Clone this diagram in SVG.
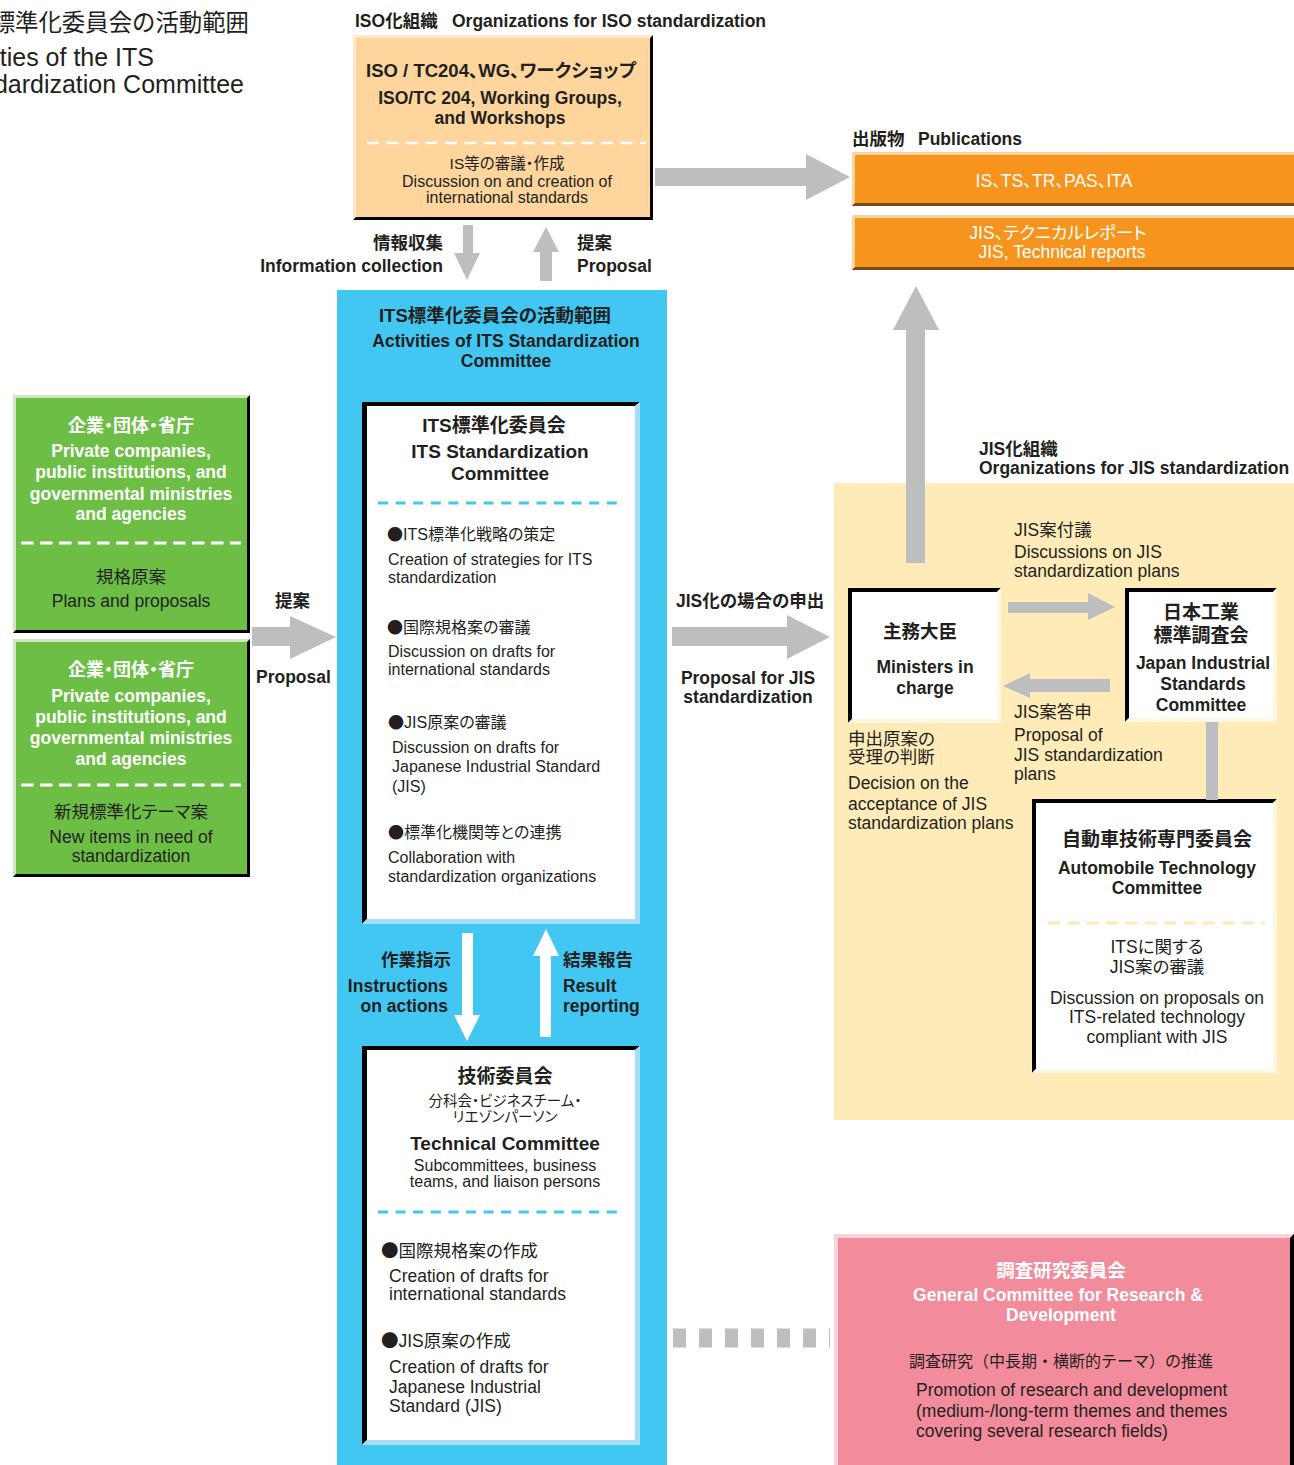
<svg xmlns="http://www.w3.org/2000/svg" width="1294" height="1465" viewBox="0 0 1294 1465">
<style>
text { font-family: "Liberation Sans", "Noto Sans CJK JP", sans-serif; fill: #231F20; font-size: 17.5px; font-feature-settings: "palt"; }
.b { font-weight: bold; }
.w { fill: #fff; }
.c { text-anchor: middle; }
.e { text-anchor: end; }
.s16 { font-size: 16px; }
.jh { font-size: 19px; }
.dot { font-family: "Noto Sans CJK JP", sans-serif; }
.arr { fill: #BCBEC0; }
.warr { fill: #fff; }
.dk { fill: #000; }
</style>

<g id="title">
  <text x="249" y="31" class="e" style="font-size:23.4px;font-feature-settings:normal">標準化委員会の活動範囲</text>
  <text x="154" y="66" class="e" style="font-size:25px">ties of the ITS</text>
  <text x="244" y="93" class="e" style="font-size:25px">dardization Committee</text>
</g>

<g id="iso-label">
  <text x="355" y="27" class="b">ISO化組織</text>
  <text x="452" y="27" class="b">Organizations for ISO standardization</text>
</g>

<g id="iso-box">
  <rect x="353" y="35" width="300" height="185" fill="#FDD59D"/>
  <polygon points="353,35 653,35 650,38 356,38 356,217 353,220" fill="#FFE9C8"/>
  <polygon points="653,35 653,220 353,220 356,217 650,217 650,38" class="dk"/>
  <text x="501" y="77" class="b c" style="font-size:18.5px">ISO / TC204、WG、ワークショップ</text>
  <text x="500" y="104" class="b c">ISO/TC 204, Working Groups,</text>
  <text x="500" y="124" class="b c">and Workshops</text>
  <line x1="367" y1="143" x2="646" y2="143" stroke="#fff" stroke-width="2.5" stroke-dasharray="12 7.5"/>
  <text x="507" y="169" class="c" style="font-size:15.5px">IS等の審議・作成</text>
  <text x="507" y="187" class="c s16">Discussion on and creation of</text>
  <text x="507" y="203" class="c s16">international standards</text>
</g>

<g id="pub-label">
  <text x="852" y="145" class="b">出版物</text>
  <text x="918" y="145" class="b">Publications</text>
</g>

<g id="pub-is">
  <rect x="852" y="152" width="442" height="54" fill="#F7941D"/>
  <polygon points="852,152 1294,152 1294,155 855,155 855,203 852,206" fill="#FDD3A0"/>
  <polygon points="852,206 1294,206 1294,203 855,203" fill="#7B4A12"/>
  <text x="1054" y="187" class="w c">IS、TS、TR、PAS、ITA</text>
</g>

<g id="pub-jis">
  <rect x="852" y="215" width="442" height="55" fill="#F7941D"/>
  <polygon points="852,215 1294,215 1294,218 855,218 855,267 852,270" fill="#FDD3A0"/>
  <polygon points="852,270 1294,270 1294,267 855,267" fill="#7B4A12"/>
  <text x="1058" y="239" class="w c">JIS、テクニカルレポート</text>
  <text x="1062" y="258" class="w c">JIS, Technical reports</text>
</g>

<g id="green-1">
  <rect x="13" y="395" width="237" height="238" fill="#6DBE45"/>
  <polygon points="13,395 250,395 247,398 16,398 16,630 13,633" fill="#D0E8BE"/>
  <polygon points="250,395 250,633 13,633 16,630 247,630 247,398" class="dk"/>
  <text x="131" y="432" class="b w c" style="font-size:18px">企業・団体・省庁</text>
  <text x="131" y="457" class="b w c">Private companies,</text>
  <text x="131" y="478" class="b w c">public institutions, and</text>
  <text x="131" y="500" class="b w c">governmental ministries</text>
  <text x="131" y="520" class="b w c">and agencies</text>
  <line x1="21" y1="543" x2="241" y2="543" stroke="#fff" stroke-width="3" stroke-dasharray="12.5 6.5"/>
  <text x="131" y="583" class="c">規格原案</text>
  <text x="131" y="607" class="c">Plans and proposals</text>
</g>

<g id="green-2">
  <rect x="13" y="639" width="237" height="238" fill="#6DBE45"/>
  <polygon points="13,639 250,639 247,642 16,642 16,874 13,877" fill="#D0E8BE"/>
  <polygon points="250,639 250,877 13,877 16,874 247,874 247,642" class="dk"/>
  <text x="131" y="676" class="b w c" style="font-size:18px">企業・団体・省庁</text>
  <text x="131" y="702" class="b w c">Private companies,</text>
  <text x="131" y="723" class="b w c">public institutions, and</text>
  <text x="131" y="744" class="b w c">governmental ministries</text>
  <text x="131" y="765" class="b w c">and agencies</text>
  <line x1="21" y1="785" x2="241" y2="785" stroke="#fff" stroke-width="3" stroke-dasharray="12.5 6.5"/>
  <text x="131" y="818" class="c">新規標準化テーマ案</text>
  <text x="131" y="843" class="c">New items in need of</text>
  <text x="131" y="862" class="c">standardization</text>
</g>

<g id="its-area">
  <rect x="337" y="290" width="330" height="1175" fill="#42C6F2"/>
  <text x="495" y="322" class="b c" style="font-size:18.5px">ITS標準化委員会の活動範囲</text>
  <text x="506" y="347" class="b c">Activities of ITS Standardization</text>
  <text x="506" y="367" class="b c">Committee</text>
</g>

<g id="its-committee">
  <rect x="362" y="402" width="278" height="522" fill="#fff"/>
  <polygon points="362,402 640,402 635,406 367,406 367,919 362,924" class="dk"/>
  <polygon points="640,402 640,924 362,924 367,919 635,919 635,406" fill="#A6DDF6"/>
  <text x="494" y="432" class="b c jh">ITS標準化委員会</text>
  <text x="500" y="458" class="b c jh">ITS Standardization</text>
  <text x="500" y="480" class="b c jh">Committee</text>
  <line x1="378" y1="503" x2="624" y2="503" stroke="#42C6F2" stroke-width="3" stroke-dasharray="10 7.6"/>
  <text x="387" y="540" class="s16"><tspan class="dot">●</tspan>ITS標準化戦略の策定</text>
  <text x="388" y="565" class="s16">Creation of strategies for ITS</text>
  <text x="388" y="583" class="s16">standardization</text>
  <text x="387" y="633" class="s16"><tspan class="dot">●</tspan>国際規格案の審議</text>
  <text x="388" y="657" class="s16">Discussion on drafts for</text>
  <text x="388" y="675" class="s16">international standards</text>
  <text x="388" y="728" class="s16"><tspan class="dot">●</tspan>JIS原案の審議</text>
  <text x="392" y="753" class="s16">Discussion on drafts for</text>
  <text x="392" y="772" class="s16">Japanese Industrial Standard</text>
  <text x="392" y="792" class="s16">(JIS)</text>
  <text x="388" y="838" class="s16"><tspan class="dot">●</tspan>標準化機関等との連携</text>
  <text x="388" y="863" class="s16">Collaboration with</text>
  <text x="388" y="882" class="s16">standardization organizations</text>
</g>

<g id="technical-committee">
  <rect x="362" y="1046" width="278" height="399" fill="#fff"/>
  <polygon points="362,1046 640,1046 635,1050 367,1050 367,1440 362,1445" class="dk"/>
  <polygon points="640,1046 640,1445 362,1445 367,1440 635,1440 635,1050" fill="#A6DDF6"/>
  <text x="505" y="1083" class="b c jh">技術委員会</text>
  <text x="505" y="1106" class="c" style="font-size:14.5px">分科会・ビジネスチーム・</text>
  <text x="505" y="1122" class="c" style="font-size:14.5px">リエゾンパーソン</text>
  <text x="505" y="1150" class="b c jh">Technical Committee</text>
  <text x="505" y="1171" class="c s16">Subcommittees, business</text>
  <text x="505" y="1187" class="c s16">teams, and liaison persons</text>
  <line x1="378" y1="1212" x2="624" y2="1212" stroke="#42C6F2" stroke-width="3" stroke-dasharray="10 7.6"/>
  <text x="381" y="1257"><tspan class="dot">●</tspan>国際規格案の作成</text>
  <text x="389" y="1282">Creation of drafts for</text>
  <text x="389" y="1300">international standards</text>
  <text x="381" y="1347"><tspan class="dot">●</tspan>JIS原案の作成</text>
  <text x="389" y="1373">Creation of drafts for</text>
  <text x="389" y="1393">Japanese Industrial</text>
  <text x="389" y="1412">Standard (JIS)</text>
</g>

<g id="jis-area">
  <text x="979" y="455" class="b">JIS化組織</text>
  <text x="979" y="474" class="b">Organizations for JIS standardization</text>
  <rect x="834" y="483" width="460" height="637" fill="#FFEBB8"/>
</g>

<g id="ministers">
  <rect x="848" y="588" width="153" height="135" fill="#fff"/>
  <polygon points="848,588 1001,588 997,592 852,592 852,719 848,723" class="dk"/>
  <polygon points="1001,588 1001,723 848,723 852,719 997,719 997,592" fill="#FFF7E2"/>
  <text x="920" y="638" class="b c" style="font-size:18.5px">主務大臣</text>
  <text x="925" y="673" class="b c">Ministers in</text>
  <text x="925" y="694" class="b c">charge</text>
</g>

<g id="jisc">
  <rect x="1125" y="588" width="152" height="134" fill="#fff"/>
  <polygon points="1125,588 1277,588 1273,592 1129,592 1129,718 1125,722" class="dk"/>
  <polygon points="1277,588 1277,722 1125,722 1129,718 1273,718 1273,592" fill="#FFF7E2"/>
  <text x="1201" y="619" class="b c jh">日本工業</text>
  <text x="1201" y="642" class="b c jh">標準調査会</text>
  <text x="1203" y="669" class="b c">Japan Industrial</text>
  <text x="1203" y="690" class="b c">Standards</text>
  <text x="1201" y="711" class="b c">Committee</text>
</g>

<g id="automobile">
  <rect x="1032" y="799" width="245" height="274" fill="#fff"/>
  <polygon points="1032,799 1277,799 1273,803 1036,803 1036,1069 1032,1073" class="dk"/>
  <polygon points="1277,799 1277,1073 1032,1073 1036,1069 1273,1069 1273,803" fill="#FFF7E2"/>
  <text x="1157" y="846" class="b c jh">自動車技術専門委員会</text>
  <text x="1157" y="874" class="b c">Automobile Technology</text>
  <text x="1157" y="894" class="b c">Committee</text>
  <line x1="1048" y1="923" x2="1265" y2="923" stroke="#FFE8B2" stroke-width="3" stroke-dasharray="12 7.4"/>
  <text x="1157" y="953" class="c">ITSに関する</text>
  <text x="1157" y="973" class="c">JIS案の審議</text>
  <text x="1157" y="1004" class="c">Discussion on proposals on</text>
  <text x="1157" y="1023" class="c">ITS-related technology</text>
  <text x="1157" y="1043" class="c">compliant with JIS</text>
</g>

<g id="research">
  <rect x="834" y="1234" width="460" height="231" fill="#F28C9C"/>
  <polygon points="834,1234 1294,1234 1290,1238 838,1238 838,1465 834,1465" fill="#FBD2D8"/>
  <polygon points="1294,1234 1294,1465 1290,1465 1290,1238" class="dk"/>
  <text x="1061" y="1277" class="b w c" style="font-size:18.5px">調査研究委員会</text>
  <text x="1058" y="1301" class="b w c">General Committee for Research &amp;</text>
  <text x="1061" y="1321" class="b w c">Development</text>
  <text x="1061" y="1367" class="c s16" style="font-feature-settings:normal">調査研究（中長期・横断的テーマ）の推進</text>
  <text x="916" y="1396">Promotion of research and development</text>
  <text x="916" y="1417">(medium-/long-term themes and themes</text>
  <text x="916" y="1437">covering several research fields)</text>
</g>

<g id="connectors">
  <polygon class="arr" points="655,168 806,168 806,154 850,177 806,200 806,186 655,186"/>
  <polygon class="arr" points="463,225 473,225 473,253 480,253 467,280 454,253 463,253"/>
  <polygon class="arr" points="546,227 559,252 552,252 552,281 540,281 540,252 533,252"/>
  <polygon class="arr" points="252,627 290,627 290,616 336,637 290,659 290,646 252,646"/>
  <polygon class="arr" points="672,627 787,627 787,615 830,637 787,659 787,646 672,646"/>
  <polygon class="arr" points="906,563 906,330 893,330 916,286 939,330 925,330 925,563"/>
  <polygon class="arr" points="1008,602 1088,602 1088,593 1115,607 1088,620 1088,613 1008,613"/>
  <polygon class="arr" points="1110,679 1030,679 1030,673 1003,686 1030,698 1030,692 1110,692"/>
  <rect class="arr" x="1206" y="722" width="12" height="78"/>
  <polygon class="warr" points="462,933 473,933 473,1015 480,1015 467,1041 454,1015 462,1015"/>
  <polygon class="warr" points="546,929 559,956 551,956 551,1037 540,1037 540,956 533,956"/>
  <line x1="673" y1="1338" x2="830" y2="1338" stroke="#BCBEC0" stroke-width="19" stroke-dasharray="13 13"/>
  <text x="443" y="249" class="b e">情報収集</text>
  <text x="443" y="272" class="b e">Information collection</text>
  <text x="577" y="249" class="b">提案</text>
  <text x="577" y="272" class="b">Proposal</text>
  <text x="275" y="607" class="b">提案</text>
  <text x="256" y="683" class="b">Proposal</text>
  <text x="676" y="607" class="b">JIS化の場合の申出</text>
  <text x="748" y="684" class="b c">Proposal for JIS</text>
  <text x="748" y="703" class="b c">standardization</text>
  <text x="451" y="966" class="b e">作業指示</text>
  <text x="448" y="992" class="b e">Instructions</text>
  <text x="448" y="1012" class="b e">on actions</text>
  <text x="563" y="966" class="b">結果報告</text>
  <text x="563" y="992" class="b">Result</text>
  <text x="563" y="1012" class="b">reporting</text>
  <text x="1014" y="536">JIS案付議</text>
  <text x="1014" y="558">Discussions on JIS</text>
  <text x="1014" y="577">standardization plans</text>
  <text x="1014" y="718">JIS案答申</text>
  <text x="1014" y="741">Proposal of</text>
  <text x="1014" y="761">JIS standardization</text>
  <text x="1014" y="780">plans</text>
  <text x="848" y="745">申出原案の</text>
  <text x="848" y="763">受理の判断</text>
  <text x="848" y="789">Decision on the</text>
  <text x="848" y="810">acceptance of JIS</text>
  <text x="848" y="829">standardization plans</text>
</g>
</svg>
